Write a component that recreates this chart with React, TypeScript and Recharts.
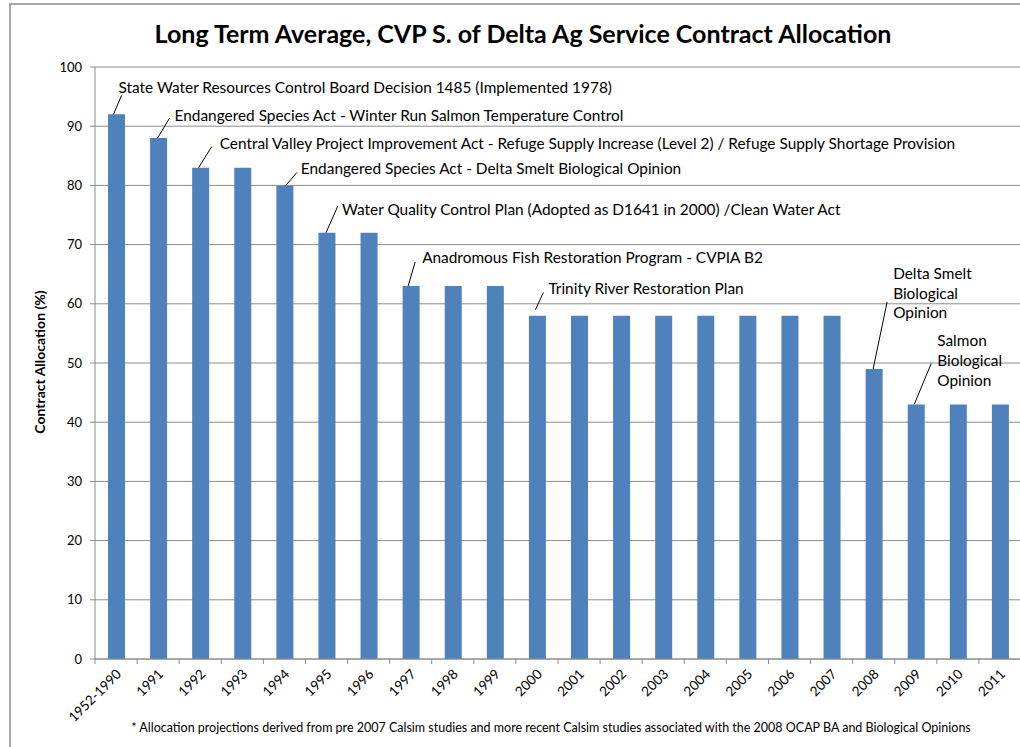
import React from 'react';
import { BarChart, Bar, XAxis, YAxis, CartesianGrid, LabelList } from 'recharts';

const CATEGORIES = ['1952-1990', '1991', '1992', '1993', '1994', '1995', '1996', '1997', '1998', '1999', '2000', '2001', '2002', '2003', '2004', '2005', '2006', '2007', '2008', '2009', '2010', '2011'];
const ALLOCATION = [92, 88, 83, 83, 80, 72, 72, 63, 63, 63, 58, 58, 58, 58, 58, 58, 58, 58, 49, 43, 43, 43];
const Y_TICKS = [0, 10, 20, 30, 40, 50, 60, 70, 80, 90, 100];

const TITLE = 'Long Term Average, CVP S. of Delta Ag Service Contract Allocation';
const Y_LABEL = 'Contract Allocation (%)';
const FOOTNOTE = '* Allocation projections derived from  pre 2007 Calsim studies and more recent Calsim studies associated with the 2008 OCAP BA and Biological Opinions';

const ANNOTATION_CATEGORIES = ['1952-1990', '1991', '1992', '1994', '1995', '1997', '2000', '2008', '2009'];
const ANNOTATION_TEXTS = [
  ['State Water Resources Control Board Decision 1485 (Implemented 1978)'],
  ['Endangered Species Act - Winter Run Salmon Temperature Control'],
  ['Central Valley Project Improvement Act - Refuge Supply Increase (Level 2) / Refuge Supply Shortage Provision'],
  ['Endangered Species Act - Delta Smelt Biological Opinion'],
  ['Water Quality Control Plan (Adopted as D1641 in 2000) /Clean Water Act'],
  ['Anadromous Fish Restoration Program - CVPIA B2'],
  ['Trinity River Restoration Plan'],
  ['Delta Smelt', 'Biological', 'Opinion'],
  ['Salmon', 'Biological', 'Opinion'],
];

// layout offsets relative to bar centre / bar top: leader line start, end, text anchor, line height
const ANNOTATION_LAYOUT = [
  { x0: -3, y0: 0, x1: 5, y1: -19, tx: 2, ty: -27, lh: 0 },
  { x0: -1, y0: 0, x1: 11, y1: -20, tx: 16, ty: -22, lh: 0 },
  { x0: -2, y0: 0, x1: 11, y1: -21, tx: 19, ty: -24, lh: 0 },
  { x0: 1, y0: 0, x1: 12, y1: -13, tx: 16, ty: -17, lh: 0 },
  { x0: -1, y0: 0, x1: 11, y1: -27, tx: 15, ty: -23, lh: 0 },
  { x0: -3, y0: 0, x1: 4, y1: -24, tx: 11, ty: -28, lh: 0 },
  { x0: -2, y0: -6, x1: 6, y1: -23, tx: 11, ty: -27, lh: 0 },
  { x0: -1, y0: 0, x1: 13, y1: -67, tx: 19, ty: -95, lh: 19.5 },
  { x0: -2, y0: 0, x1: 15, y1: -41, tx: 21, ty: -64, lh: 20 },
];

const FONT = 'Lato, "Open Sans", sans-serif';
const GRID = '#8c8c8c';
const BAR = '#4F81BD';

const CHART_W = 1030;
const CHART_H = 747;
const PLOT_LEFT = 95;
const PLOT_RIGHT = 1021;
const BAND = (PLOT_RIGHT - PLOT_LEFT) / CATEGORIES.length;

const data = CATEGORIES.map((c, i) => ({ category: c, value: ALLOCATION[i] }));

const XTick = (props: any) => {
  const { x, y, payload, index } = props;
  const left = x - BAND / 2;
  const ax = x + 6;
  const ay = y + 16;
  return (
    <g>
      <line x1={left} y1={y} x2={left} y2={y + 5} stroke={GRID} strokeWidth={1} />
      {index === CATEGORIES.length - 1 && (
        <line x1={x + BAND / 2} y1={y} x2={x + BAND / 2} y2={y + 5} stroke={GRID} strokeWidth={1} />
      )}
      <text
        x={ax}
        y={ay}
        textAnchor="end"
        transform={`rotate(-45 ${ax} ${ay})`}
        fontSize={13.5}
        fontFamily={FONT}
        fill="#000"
      >
        {payload.value}
      </text>
    </g>
  );
};

const Annotation = (props: any) => {
  const { x, y, width, index } = props;
  const cat = CATEGORIES[index];
  const ai = ANNOTATION_CATEGORIES.indexOf(cat);
  if (ai < 0) return null;
  const cx = x + width / 2;
  const L = ANNOTATION_LAYOUT[ai];
  const lines = ANNOTATION_TEXTS[ai];
  return (
    <g>
      <line x1={cx + L.x0} y1={y + L.y0} x2={cx + L.x1} y2={y + L.y1} stroke="#000" strokeWidth={1} />
      {lines.map((t, k) => (
        <text
          key={k}
          x={cx + L.tx}
          y={y + L.ty + k * L.lh}
          dy="0.35em"
          fontSize={15.4}
          fontFamily={FONT}
          fill="#000"
        >
          {t}
        </text>
      ))}
    </g>
  );
};

export default function App() {
  return (
    <div style={{ position: 'fixed', left: 0, top: 0, width: 1020, height: 747, overflow: 'hidden', background: '#fff', fontFamily: FONT }}>
      <div style={{ position: 'absolute', left: 9, top: 3, width: 1100, height: 800, borderTop: '2px solid #a6a6a6', borderLeft: '2px solid #a6a6a6' }} />
      <div style={{ position: 'absolute', left: 0, top: 0 }}>
        <BarChart width={CHART_W} height={CHART_H} data={data} margin={{ top: 67, right: CHART_W - PLOT_RIGHT, bottom: 58, left: 0 }}>
          <CartesianGrid vertical={false} stroke={GRID} strokeWidth={1} />
          <XAxis
            dataKey="category"
            height={30}
            interval={0}
            tickLine={false}
            tickSize={0}
            tickMargin={0}
            axisLine={{ stroke: GRID }}
            tick={<XTick />}
          />
          <YAxis
            width={PLOT_LEFT}
            domain={[0, 100]}
            ticks={Y_TICKS}
            interval={0}
            tickSize={5}
            tickMargin={8}
            axisLine={{ stroke: GRID }}
            tickLine={{ stroke: GRID }}
            tick={{ fontSize: 13, fontFamily: FONT, fill: '#000' }}
          />
          <Bar dataKey="value" fill={BAR} barSize={17} isAnimationActive={false}>
            <LabelList dataKey="value" content={<Annotation />} />
          </Bar>
        </BarChart>
      </div>
      <div style={{ position: 'absolute', left: 0, width: 1046, top: 17, textAlign: 'center', fontSize: 25, fontWeight: 700, color: '#000', lineHeight: '32px', whiteSpace: 'nowrap' }}>
        {TITLE}
      </div>
      <div style={{ position: 'absolute', left: 40, top: 362, width: 0, height: 0 }}>
        <div style={{ position: 'absolute', left: -100, top: -10, width: 200, textAlign: 'center', transform: 'rotate(-90deg)', fontSize: 14, fontWeight: 700, color: '#000', lineHeight: '20px', whiteSpace: 'nowrap' }}>
          {Y_LABEL}
        </div>
      </div>
      <div style={{ position: 'absolute', left: 0, width: 1102, top: 719, textAlign: 'center', fontSize: 12.5, color: '#000', lineHeight: '18px', whiteSpace: 'nowrap' }}>
        {FOOTNOTE}
      </div>
    </div>
  );
}
